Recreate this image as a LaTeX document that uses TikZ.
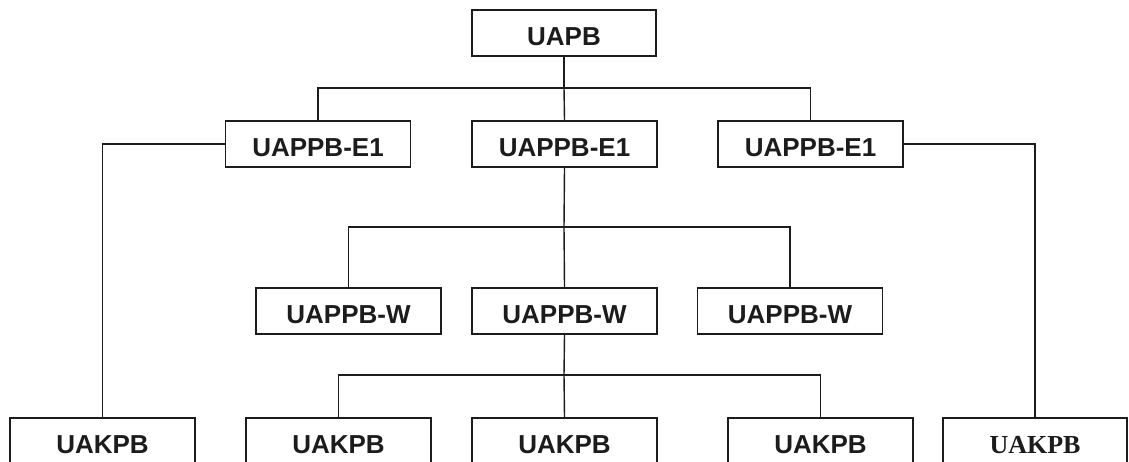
\documentclass[tikz,border=0pt]{standalone}
\usepackage{fontspec}
\setmainfont{Liberation Sans}
\newfontfamily\serifbox{Liberation Serif}
\definecolor{ink}{rgb}{0.11,0.11,0.11}
\begin{document}
\begin{tikzpicture}[x=1pt,y=-1pt,
  unitbox/.style={draw=ink, line width=1.6pt, fill=white, minimum width=185pt, minimum height=46pt,
    inner sep=0pt, text height=24.6pt, text depth=0pt,
    font=\fontsize{26}{30}\selectfont\bfseries, text=ink},
  link/.style={draw=ink, line width=1.4pt}]
\useasboundingbox (0,0) rectangle (1129,462);
\clip (0,0) rectangle (1129,462);
\fill[white] (0,0) rectangle (1129,462);

% level 0
\node[unitbox, minimum width=184pt] (uapb) at (564,33) {UAPB};
% level 1
\node[unitbox] (e1l) at (318,144) {UAPPB-E1};
\node[unitbox] (e1m) at (564.5,144) {UAPPB-E1};
\node[unitbox] (e1r) at (810.5,144) {UAPPB-E1};
% level 2
\node[unitbox] (wl) at (348.5,311) {UAPPB-W};
\node[unitbox] (wm) at (564.5,311) {UAPPB-W};
\node[unitbox] (wr) at (790,311) {UAPPB-W};
% level 3
\node[unitbox] (k1) at (102.5,441) {UAKPB};
\node[unitbox] (k2) at (338.5,441) {UAKPB};
\node[unitbox] (k3) at (564.5,441) {UAKPB};
\node[unitbox] (k4) at (820.5,441) {UAKPB};
\node[unitbox, minimum width=184pt, font=\fontsize{26}{30}\selectfont\serifbox\bfseries] (k5) at (1035,441) {UAKPB};

% junctions
\coordinate (j1) at (564,88);
\coordinate (j2) at (564,227);
\coordinate (j3) at (564,375);

% connectors
\draw[link] (uapb.south) -- (j1);
\draw[link] (e1l.north) |- (j1) -| (e1r.north);
\draw[link] (j1) -- (e1m.north);

\draw[link] (e1l.west) -| (k1.north);
\draw[link] (e1r.east) -| (k5.north);

\draw[link] (e1m.south) -- (j2);
\draw[link] (wl.north) |- (j2) -| (wr.north);
\draw[link] (j2) -- (wm.north);

\draw[link] (wm.south) -- (j3);
\draw[link] (k2.north) |- (j3) -| (k4.north);
\draw[link] (j3) -- (k3.north);
\end{tikzpicture}
\end{document}
